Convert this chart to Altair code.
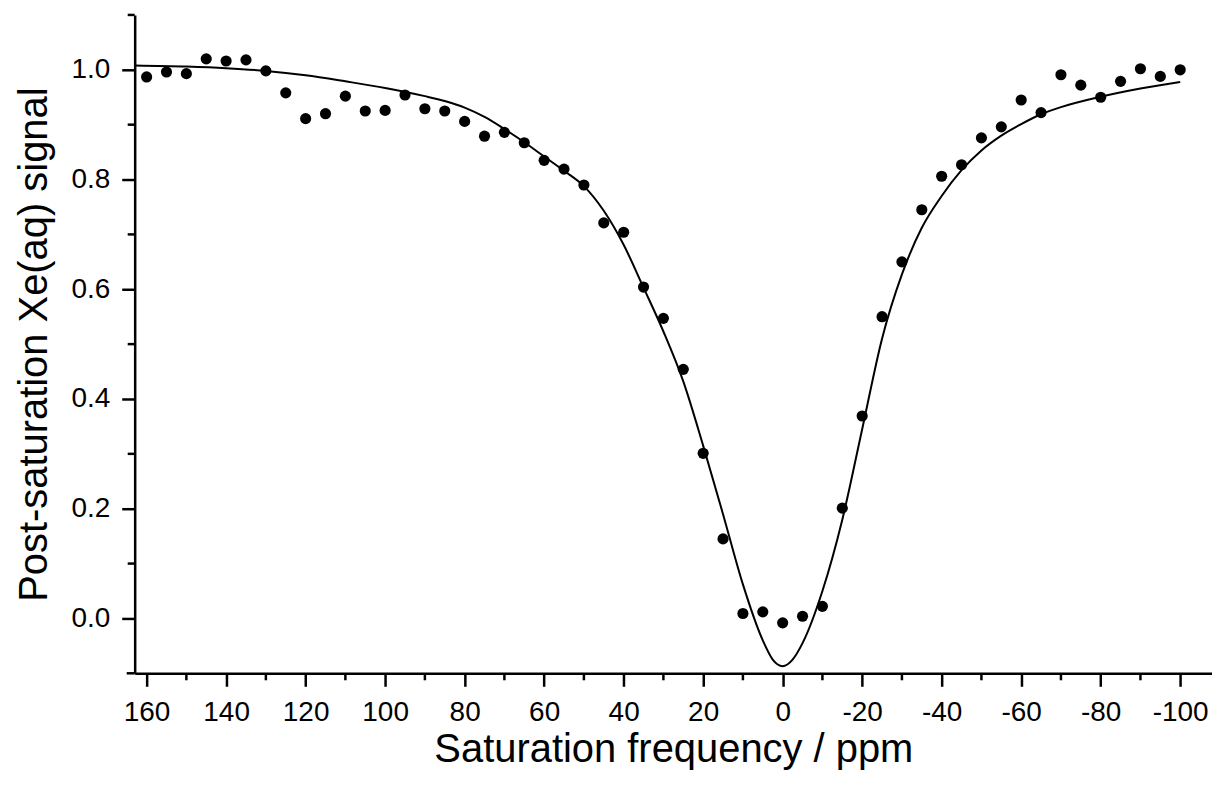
import altair as alt
import pandas as pd

# Measured data points (Saturation frequency in ppm, post-saturation signal)
ppm = [160, 155, 150, 145, 140, 135, 130, 125, 120, 115, 110, 105, 100, 95, 90,
       85, 80, 75, 70, 65, 60, 55, 50, 45, 40, 35, 30, 25, 20, 15, 10, 5, 0,
       -5, -10, -15, -20, -25, -30, -35, -40, -45, -50, -55, -60, -65, -70,
       -75, -80, -85, -90, -95, -100]
signal = [0.987, 0.996, 0.993, 1.020, 1.016, 1.018, 0.998, 0.958, 0.911, 0.920,
          0.952, 0.925, 0.926, 0.954, 0.929, 0.925, 0.906, 0.879, 0.886, 0.867,
          0.835, 0.819, 0.790, 0.721, 0.704, 0.604, 0.547, 0.454, 0.301, 0.145,
          0.009, 0.012, -0.008, 0.004, 0.022, 0.201, 0.369, 0.550, 0.650, 0.745,
          0.806, 0.827, 0.876, 0.896, 0.945, 0.922, 0.991, 0.972, 0.950, 0.979,
          1.002, 0.988, 1.000]

# Fitted curve
fit_ppm = [163, 150, 140, 130, 120, 110, 100, 90, 85, 80, 75, 70, 65, 60, 55,
           50, 45, 40, 35, 30, 25, 20, 15, 10, 5, 2.5, 0, -2.5, -5, -10, -15,
           -20, -25, -30, -35, -40, -45, -50, -55, -60, -65, -70, -80, -90, -100]
fit_signal = [1.008, 1.006, 1.003, 0.998, 0.990, 0.979, 0.967, 0.952, 0.943,
              0.931, 0.914, 0.892, 0.868, 0.842, 0.816, 0.788, 0.743, 0.681,
              0.603, 0.523, 0.432, 0.315, 0.190, 0.062, -0.040, -0.075, -0.087,
              -0.075, -0.045, 0.050, 0.180, 0.345, 0.510, 0.627, 0.712, 0.770,
              0.817, 0.853, 0.880, 0.901, 0.919, 0.932, 0.951, 0.966, 0.978]

x_major = [160, 140, 120, 100, 80, 60, 40, 20, 0, -20, -40, -60, -80, -100]
x_minor = [150, 130, 110, 90, 70, 50, 30, 10, -10, -30, -50, -70, -90]
y_major = [0.0, 0.2, 0.4, 0.6, 0.8, 1.0]
y_minor = [0.1, 0.3, 0.5, 0.7, 0.9, 1.1]

pts = pd.DataFrame({"ppm": ppm, "signal": signal})
fit = pd.DataFrame({"ppm": fit_ppm, "signal": fit_signal,
                    "idx": list(range(len(fit_ppm)))})
xm = pd.DataFrame({"ppm": x_minor})
ym = pd.DataFrame({"signal": y_minor})

FONT = "Liberation Sans"
xscale = alt.Scale(domain=[163, -108], nice=False, zero=False)
yscale = alt.Scale(domain=[-0.1, 1.1], nice=False, zero=False)

xaxis = alt.Axis(title="Saturation frequency / ppm", values=x_major,
                 labelExpr="'' + datum.value", tickSize=13, labelPadding=12,
                 titlePadding=3, grid=False)
yaxis = alt.Axis(title="Post-saturation Xe(aq) signal", values=y_major,
                 format=".1f", tickSize=13, labelPadding=12, titlePadding=16,
                 grid=False)

line = alt.Chart(fit).mark_line(color="black", strokeWidth=2,
                                interpolate="monotone").encode(
    x=alt.X("ppm:Q", scale=xscale, axis=xaxis),
    y=alt.Y("signal:Q", scale=yscale, axis=yaxis),
    order=alt.Order("idx:Q"),
)

dots = alt.Chart(pts).mark_circle(color="black", opacity=1, size=125).encode(
    x=alt.X("ppm:Q", scale=xscale),
    y=alt.Y("signal:Q", scale=yscale),
)

xminor_ticks = alt.Chart(xm).mark_rule(color="black", strokeWidth=2.5).encode(
    x=alt.X("ppm:Q", scale=xscale),
    y=alt.value(660),
    y2=alt.value(667),
)

yminor_ticks = alt.Chart(ym).mark_rule(color="black", strokeWidth=2.5).encode(
    y=alt.Y("signal:Q", scale=yscale),
    x=alt.value(0),
    x2=alt.value(-7),
)

axis_ext = alt.Chart(pd.DataFrame({"k": [0]})).mark_rule(
    color="black", strokeWidth=2.5).encode(
    x=alt.value(-8), x2=alt.value(0), y=alt.value(660))

chart = alt.layer(line, dots, xminor_ticks, yminor_ticks, axis_ext).properties(
    width=1080, height=660,
    autosize="none",
    padding={"left": 127, "top": 6, "right": 0, "bottom": 105},
).configure_view(stroke=None).configure_axis(
    domainColor="black", domainWidth=2.5, tickColor="black", tickWidth=2.5,
    labelFont=FONT, labelFontSize=28, labelColor="black",
    titleFont=FONT, titleFontSize=40, titleFontWeight="normal", titleColor="black",
)

chart.save("out.html", embed_options={"renderer": "svg", "actions": False})
